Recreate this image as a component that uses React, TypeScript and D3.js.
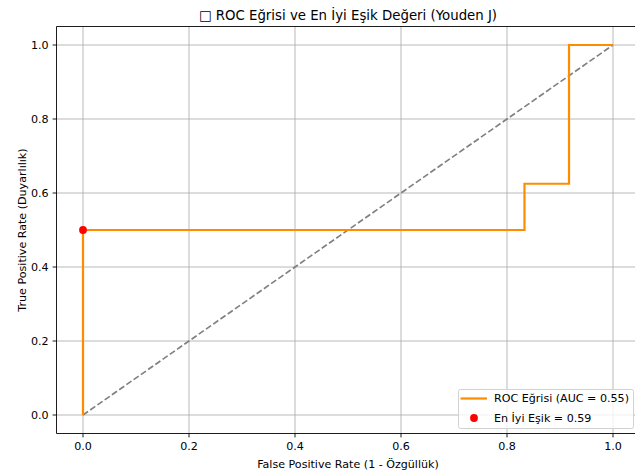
import React from 'react'
import * as d3 from 'd3'

// ROC curve points (fpr, tpr)
const fpr = [0, 0, 0.833, 0.833, 0.917, 0.917, 1.0]
const tpr = [0, 0.5, 0.5, 0.625, 0.625, 1.0, 1.0]
const diagX = [0, 1]
const diagY = [0, 1]
const bestPoint = { fpr: 0, tpr: 0.5 }
const ticks = [0, 0.2, 0.4, 0.6, 0.8, 1.0]
const aucLabel = 'ROC Eğrisi (AUC = 0.55)'
const bestLabel = 'En İyi Eşik = 0.59'

const W = 635
const H = 476
const left = 56.5
const right = 639.5
const top = 26.5
const bottom = 433.5
const font = 'DejaVu Sans, sans-serif'
const pt = 1.11 // px per point

export default function App() {
    const x = d3.scaleLinear().domain([-0.05, 1.05]).range([left, right])
    const y = d3.scaleLinear().domain([-0.05, 1.05]).range([bottom, top])

    const line = d3.line<number>()
        .x((d, i) => x(fpr[i]))
        .y((d) => y(d))
    const diag = d3.line<number>()
        .x((d, i) => x(diagX[i]))
        .y((d) => y(d))

    const fmt = d3.format('.1f')
    const fs = 10 * pt

    return (
        <svg width={W} height={H} style={{ position: 'absolute', left: 0, top: 0, background: '#fff' }}
            fontFamily={font}>
            <rect x={0} y={0} width={W} height={H} fill="#fff" />
            {/* grid */}
            {ticks.map((t) => (
                <line key={'gx' + t} x1={x(t)} x2={x(t)} y1={top} y2={bottom} stroke="#b0b0b0" strokeWidth={0.8 * pt} />
            ))}
            {ticks.map((t) => (
                <line key={'gy' + t} x1={left} x2={right} y1={y(t)} y2={y(t)} stroke="#b0b0b0" strokeWidth={0.8 * pt} />
            ))}

            {/* diagonal */}
            <path d={diag(diagY) || ''} fill="none" stroke="#808080" strokeWidth={1.5 * pt} strokeDasharray={`${5.55 * pt},${2.4 * pt}`} />
            {/* ROC */}
            <path d={line(tpr) || ''} fill="none" stroke="#ff8c00" strokeWidth={2 * pt} />
            {/* best point */}
            <circle cx={x(bestPoint.fpr)} cy={y(bestPoint.tpr)} r={3.9} fill="#ff0000" />

            {/* spines */}
            <line x1={left} x2={left} y1={top} y2={bottom} stroke="#000" strokeWidth={0.8 * pt} />
            <line x1={left} x2={right} y1={top} y2={top} stroke="#000" strokeWidth={0.8 * pt} />
            <line x1={left} x2={right} y1={bottom} y2={bottom} stroke="#000" strokeWidth={0.8 * pt} />
            <line x1={right} x2={right} y1={top} y2={bottom} stroke="#000" strokeWidth={0.8 * pt} />

            {/* x ticks */}
            {ticks.map((t) => (
                <g key={'tx' + t}>
                    <line x1={x(t)} x2={x(t)} y1={bottom} y2={bottom + 3.9} stroke="#000" strokeWidth={0.8 * pt} />
                    <text x={x(t)} y={bottom + 16} textAnchor="middle" fontSize={fs} fill="#000">{fmt(t)}</text>
                </g>
            ))}
            {/* y ticks */}
            {ticks.map((t) => (
                <g key={'ty' + t}>
                    <line x1={left - 3.9} x2={left} y1={y(t)} y2={y(t)} stroke="#000" strokeWidth={0.8 * pt} />
                    <text x={left - 7.8} y={y(t)} dy="0.35em" textAnchor="end" fontSize={fs} fill="#000">{fmt(t)}</text>
                </g>
            ))}

            {/* labels */}
            <text x={(left + right) / 2} y={468} textAnchor="middle" fontSize={fs} fill="#000">False Positive Rate (1 - Özgüllük)</text>
            <text transform={`translate(26, ${(top + bottom) / 2}) rotate(-90)`} textAnchor="middle" fontSize={fs} fill="#000">True Positive Rate (Duyarlılık)</text>
            <text x={(left + right) / 2} y={19.5} textAnchor="middle" fontSize={12 * pt} fill="#000">□ ROC Eğrisi ve En İyi Eşik Değeri (Youden J)</text>

            {/* legend */}
            <g>
                <rect x={458.5} y={389.5} width={175} height={39} rx={2} fill="#fff" fillOpacity={0.8} stroke="#cccccc" strokeWidth={0.8 * pt} />
                <line x1={460.5} x2={487} y1={398.5} y2={398.5} stroke="#ff8c00" strokeWidth={2 * pt} />
                <text x={494} y={398.5} dy="0.35em" fontSize={fs} fill="#000">{aucLabel}</text>
                <circle cx={474} cy={418} r={3.9} fill="#ff0000" />
                <text x={494} y={418} dy="0.35em" fontSize={fs} fill="#000">{bestLabel}</text>
            </g>
        </svg>
    )
}
